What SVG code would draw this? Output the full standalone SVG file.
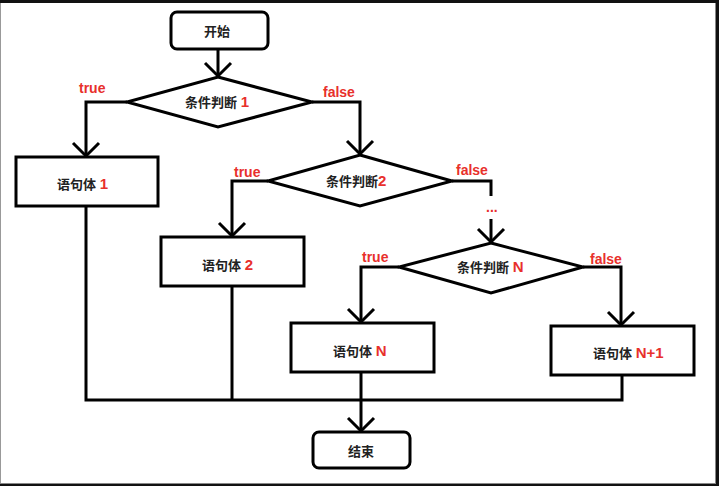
<svg xmlns="http://www.w3.org/2000/svg" width="719" height="486" viewBox="0 0 719 486">
<style>
.shape{fill:#fff;stroke:#000;stroke-width:3}
.conn{fill:none;stroke:#000;stroke-width:3;stroke-linejoin:miter}
text{font-family:"Liberation Sans","Noto Sans CJK SC",sans-serif;font-weight:bold}
.t{font-size:13px;fill:#222}
.r{fill:#e8302c;font-size:15px}
.lbl{font-size:14px;fill:#e8302c}
</style>
<defs>
<marker id="arr" markerUnits="userSpaceOnUse" markerWidth="32" markerHeight="32" refX="16" refY="16" orient="auto" viewBox="0 0 32 32">
<path d="M3,3 L16,16 L3,29" fill="none" stroke="#000" stroke-width="3"/>
</marker>
</defs>
<rect x="0" y="0" width="719" height="486" fill="#fff"/>
<rect x="0" y="0" width="719" height="3" fill="#111"/>
<rect x="716" y="0" width="3" height="486" fill="#111"/>
<rect x="0" y="484" width="719" height="2" fill="#111"/>
<line x1="0.5" y1="3" x2="0.5" y2="484" stroke="#999" stroke-width="1"/>
<line x1="715.5" y1="3" x2="715.5" y2="484" stroke="#888" stroke-width="1"/>
<line x1="0" y1="483.5" x2="716" y2="483.5" stroke="#888" stroke-width="1"/>

<g id="connectors">
<path class="conn" d="M218,49 V76" marker-end="url(#arr)"/>
<path class="conn" d="M127,102 H86 V156" marker-end="url(#arr)"/>
<path class="conn" d="M312,102 H360 V154" marker-end="url(#arr)"/>
<path class="conn" d="M268,181 H232 V236" marker-end="url(#arr)"/>
<path class="conn" d="M452,181 H491 V196"/>
<path class="conn" d="M491,219 V242" marker-end="url(#arr)"/>
<path class="conn" d="M399,267 H361 V322" marker-end="url(#arr)"/>
<path class="conn" d="M583,267 H621 V325" marker-end="url(#arr)"/>
<path class="conn" d="M86,206 V400 H622 V375"/>
<path class="conn" d="M232,286 V400"/>
<path class="conn" d="M361,372 V431" marker-end="url(#arr)"/>
<text class="lbl" x="79" y="93">true</text>
<text class="lbl" x="323" y="97">false</text>
<text class="lbl" x="234" y="177">true</text>
<text class="lbl" x="456" y="175">false</text>
<text class="lbl" x="486" y="212">...</text>
<text class="lbl" x="362" y="262">true</text>
<text class="lbl" x="590" y="264">false</text>
</g>

<g id="start">
<rect class="shape" x="171" y="12" width="97" height="37" rx="6"/>
<text class="t" x="204" y="36">开始</text>
</g>
<g id="cond1">
<polygon class="shape" points="218,77 312,102 218,127 127,102"/>
<text class="t" x="185" y="107">条件判断 <tspan class="r">1</tspan></text>
</g>
<g id="body1">
<rect class="shape" x="16" y="157" width="142" height="49"/>
<text class="t" x="57" y="189">语句体 <tspan class="r">1</tspan></text>
</g>
<g id="cond2">
<polygon class="shape" points="360,155 452,181 360,206 268,181"/>
<text class="t" x="326" y="186">条件判断<tspan class="r">2</tspan></text>
</g>
<g id="body2">
<rect class="shape" x="161" y="237" width="143" height="49"/>
<text class="t" x="202" y="270">语句体 <tspan class="r">2</tspan></text>
</g>
<g id="condN">
<polygon class="shape" points="491,243 583,267 491,293 399,267"/>
<text class="t" x="457" y="272">条件判断 <tspan class="r">N</tspan></text>
</g>
<g id="bodyN">
<rect class="shape" x="291" y="323" width="143" height="49"/>
<text class="t" x="333" y="356">语句体 <tspan class="r">N</tspan></text>
</g>
<g id="bodyN1">
<rect class="shape" x="551" y="326" width="143" height="49"/>
<text class="t" x="593" y="358">语句体 <tspan class="r">N+1</tspan></text>
</g>
<g id="end">
<rect class="shape" x="313" y="432" width="97" height="36" rx="6"/>
<text class="t" x="348" y="456">结束</text>
</g>
</svg>
